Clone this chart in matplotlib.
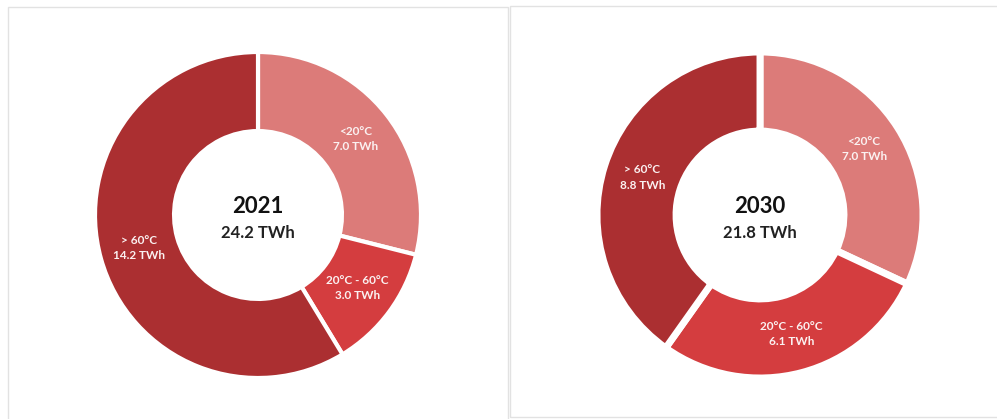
import numpy as np
import matplotlib.pyplot as plt
from matplotlib.patches import Rectangle

# heat demand by temperature band (TWh)
bands = ["<20°C", "20°C - 60°C", "> 60°C"]
twh_2021 = [7.0, 3.0, 14.2]
twh_2030 = [7.0, 6.1, 8.8]
totals = ["24.2 TWh", "21.8 TWh"]
years = ["2021", "2030"]
colors = ["#dc7b79", "#d43d3f", "#ab2f31"]

W, H = 997, 419
fig = plt.figure(figsize=(W / 100, H / 100), dpi=100)

# panel frames
for x0, y0, x1, y1 in [(8, 7, 508, 425), (510, 6, 1005, 417)]:
    fig.add_artist(Rectangle((x0 / W, 1 - y1 / H), (x1 - x0) / W, (y1 - y0) / H,
                             transform=fig.transFigure, fill=False,
                             edgecolor="#e2e2e2", linewidth=1.0))


def donut(cx, cy, values, year, total, gap):
    r = 163
    ax = fig.add_axes([(cx - r) / W, 1 - (cy + r) / H, 2 * r / W, 2 * r / H])
    wedges, _ = ax.pie(values, colors=colors, startangle=90, counterclock=False,
                       radius=1.0,
                       wedgeprops=dict(width=0.485, edgecolor="white", linewidth=gap))
    ax.set_xlim(-1, 1)
    ax.set_ylim(-1, 1)
    ax.set_aspect("equal")
    ax.axis("off")
    for w, name, v in zip(wedges, bands, values):
        mid = np.deg2rad((w.theta1 + w.theta2) / 2)
        rr = 1 - 0.485 / 2
        ax.text(rr * np.cos(mid), rr * np.sin(mid), f"{name}\n{v:.1f} TWh",
                ha="center", va="center", color="#fbf1f1", fontsize=8.5,
                fontweight="bold", family="Lato", linespacing=1.45)
    ax.text(0, 0.05, year, ha="center", va="center", fontsize=16,
            fontweight="bold", family="Lato", color="#111111")
    ax.text(0, -0.11, total, ha="center", va="center", fontsize=12,
            fontweight="bold", family="Lato", color="#222222")


donut(258, 215, twh_2021, years[0], totals[0], 3)
donut(760, 215, twh_2030, years[1], totals[1], 5)

plt.savefig("out.png", dpi=100)
